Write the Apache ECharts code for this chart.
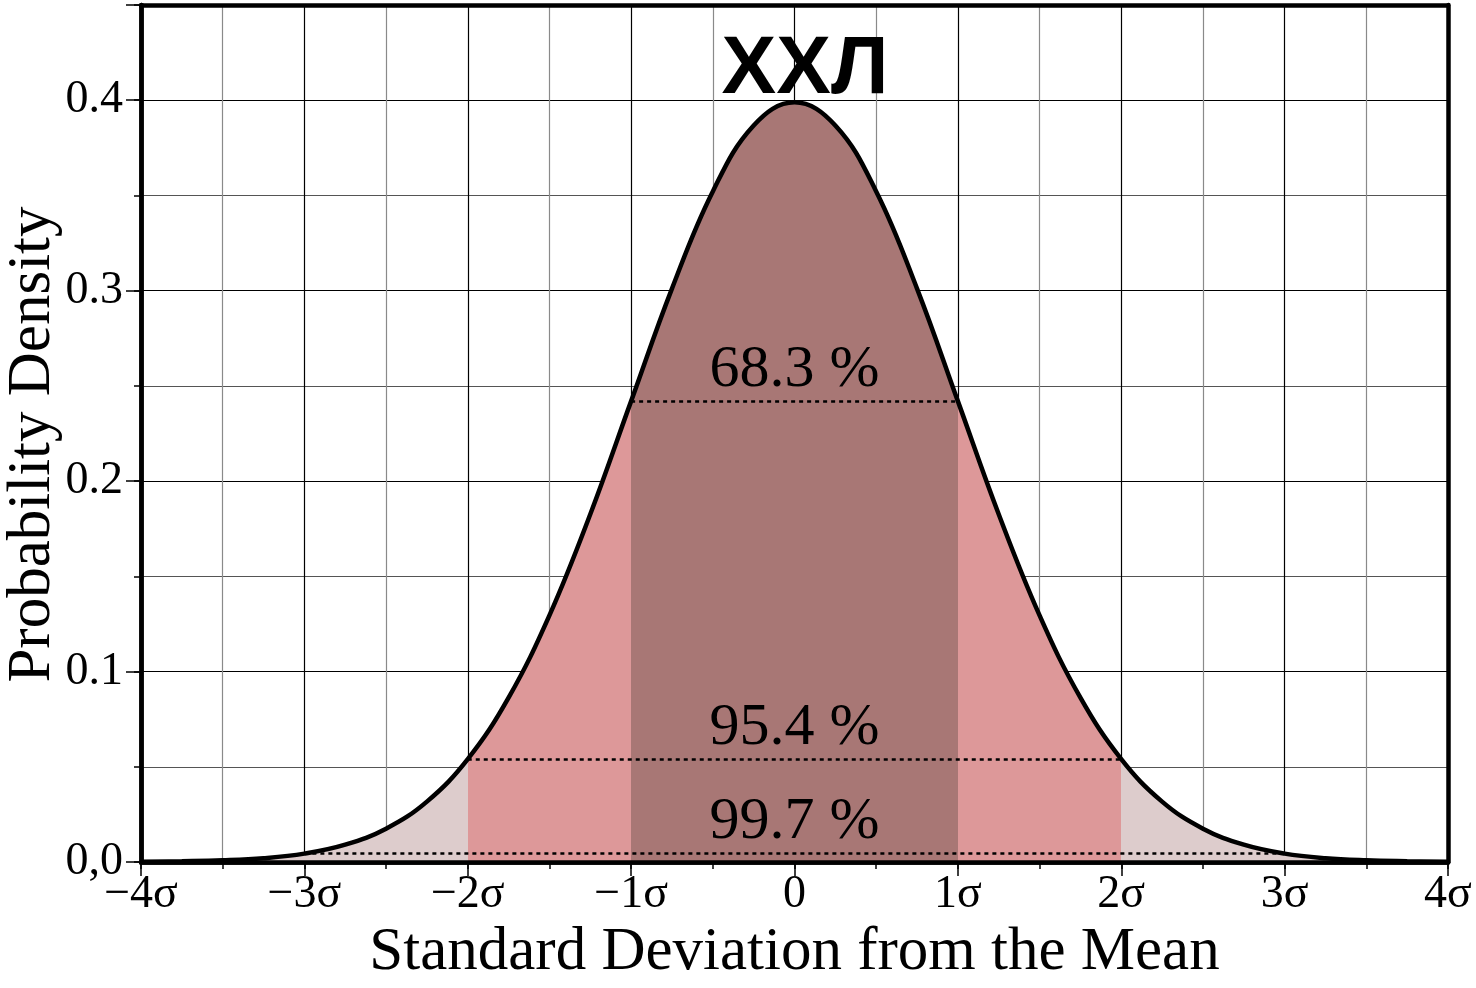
<!DOCTYPE html>
<html>
<head>
<meta charset="utf-8">
<script src="https://cdn.jsdelivr.net/npm/echarts@6/dist/echarts.min.js"></script>
<style>
  html, body { margin: 0; padding: 0; background: #fff; }
  #chart { width: 1476px; height: 988px; }
</style>
</head>
<body>
<div id="chart"></div>
<script>
// curve, every quarter sigma
var sigmas = [-4, -3.75, -3.5, -3.25, -3, -2.75, -2.5, -2.25, -2, -1.75, -1.5, -1.25, -1, -0.75, -0.5, -0.25,
    0, 0.25, 0.5, 0.75, 1, 1.25, 1.5, 1.75, 2, 2.25, 2.5, 2.75, 3, 3.25, 3.5, 3.75, 4];
var density = [0.0001, 0.0004, 0.0009, 0.0020, 0.0044, 0.0091, 0.0175, 0.0317, 0.0540, 0.0863, 0.1295, 0.1826,
    0.2420, 0.3011, 0.3521, 0.3867, 0.3989, 0.3867, 0.3521, 0.3011, 0.2420, 0.1826, 0.1295, 0.0863, 0.0540,
    0.0317, 0.0175, 0.0091, 0.0044, 0.0020, 0.0009, 0.0004, 0.0001];

// the three bands: label, half width in sigma, height of the dotted line
var bandLabels = ['68.3 %', '95.4 %', '99.7 %'];
var bandWidths = [1, 2, 3];
var bandHeights = [0.2420, 0.0540, 0.0044];

var title = 'ХХЛ';

var colDark = '#a87775';
var colMid = '#dd9899';
var colLight = '#ddcccc';

var points = [];
for (var i = 0; i < sigmas.length; i++) {
    points.push([sigmas[i], density[i]]);
}

var bandLines = [];
for (var j = 0; j < bandLabels.length; j++) {
    bandLines.push([
        {name: bandLabels[j], coord: [-bandWidths[j], bandHeights[j]]},
        {coord: [bandWidths[j], bandHeights[j]]}
    ]);
}

var serif = 'Liberation Serif, Times New Roman, serif';

function xLabel(v) {
    if (v === 0) return '0';
    if (Math.round(v) !== v) return '';
    return (v < 0 ? '\u2212' : '') + Math.abs(v) + 'σ';
}

function yLabel(v) {
    if (v === 0) return '0,0';
    if (v > 0.41) return '';
    return v.toFixed(1);
}

var border = {show: true, onZero: false, lineStyle: {color: '#000', width: 4.5}};

var chart = echarts.init(document.getElementById('chart'));

var option = {
    backgroundColor: '#fff',
    animation: false,
    grid: {left: 141, right: 28, top: 5, bottom: 126, outerBoundsMode: 'none', containLabel: false},
    graphic: [{
        type: 'text',
        x: 805,
        y: 70,
        z: 100,
        style: {
            text: title,
            font: 'bold 82px "Liberation Sans", Arial, sans-serif',
            fill: '#000',
            align: 'center',
            verticalAlign: 'middle'
        }
    }],
    xAxis: [{
        // half-sigma grid and short ticks
        type: 'value', position: 'bottom', min: -4, max: 4, interval: 0.5,
        axisLine: border,
        axisTick: {show: true, length: 7, lineStyle: {color: '#000', width: 1.5}},
        axisLabel: {show: false},
        splitLine: {show: true, lineStyle: {color: ['#000', '#8a8a8a'], width: 1.2}}
    }, {
        type: 'value', position: 'bottom', min: -4, max: 4, interval: 1, z: 5,
        axisLine: border,
        axisTick: {show: true, length: 14, lineStyle: {color: '#000', width: 1.5}},
        axisLabel: {show: true, formatter: xLabel, color: '#000', fontFamily: serif, fontSize: 46, margin: 10},
        splitLine: {show: false},
        name: 'Standard Deviation from the Mean',
        nameLocation: 'middle',
        nameGap: 60,
        nameTextStyle: {color: '#000', fontFamily: serif, fontSize: 61}
    }, {
        type: 'value', position: 'top', min: -4, max: 4, z: 5,
        axisLine: border,
        axisTick: {show: false}, axisLabel: {show: false}, splitLine: {show: false}
    }],
    yAxis: [{
        type: 'value', position: 'left', min: 0, max: 0.45, interval: 0.05,
        axisLine: border,
        axisTick: {show: true, length: 7, lineStyle: {color: '#000', width: 1.5}},
        axisLabel: {show: false},
        splitLine: {show: true, lineStyle: {color: ['#000', '#555'], width: 1.2}}
    }, {
        type: 'value', position: 'left', min: 0, max: 0.45, interval: 0.1, z: 5,
        axisLine: border,
        axisTick: {show: true, length: 15, lineStyle: {color: '#000', width: 1.5}},
        axisLabel: {show: true, formatter: yLabel, color: '#000', fontFamily: serif, fontSize: 46, margin: 18},
        splitLine: {show: false},
        name: 'Probability Density',
        nameLocation: 'middle',
        nameGap: 78,
        nameMoveOverlap: false,
        nameTextStyle: {color: '#000', fontFamily: serif, fontSize: 61, padding: [0, 22, 0, 0]}
    }, {
        type: 'value', position: 'right', min: 0, max: 0.45, z: 5,
        axisLine: border,
        axisTick: {show: false}, axisLabel: {show: false}, splitLine: {show: false}
    }],
    visualMap: {
        type: 'piecewise',
        show: false,
        seriesIndex: 0,
        dimension: 0,
        pieces: [
            {lt: -2, color: colLight},
            {gte: -2, lt: -1, color: colMid},
            {gte: -1, lte: 1, color: colDark},
            {gt: 1, lte: 2, color: colMid},
            {gt: 2, color: colLight}
        ]
    },
    series: [{
        // coloured bands under the curve
        type: 'line',
        xAxisIndex: 0, yAxisIndex: 0,
        data: points,
        smooth: 0.4,
        showSymbol: false,
        lineStyle: {width: 0},
        areaStyle: {opacity: 1},
        z: 2,
        silent: true
    }, {
        type: 'line',
        xAxisIndex: 0, yAxisIndex: 0,
        data: points,
        smooth: 0.4,
        showSymbol: false,
        lineStyle: {color: '#000', width: 4.5},
        z: 4,
        silent: true,
        markLine: {
            silent: true,
            symbol: 'none',
            lineStyle: {color: '#000', type: [4, 4], width: 2.5},
            label: {
                show: true,
                position: 'insideMiddleTop',
                formatter: '{b}',
                color: '#000',
                fontFamily: serif,
                fontSize: 60,
                distance: 1
            },
            data: bandLines
        }
    }]
};

chart.setOption(option);
</script>
</body>
</html>
